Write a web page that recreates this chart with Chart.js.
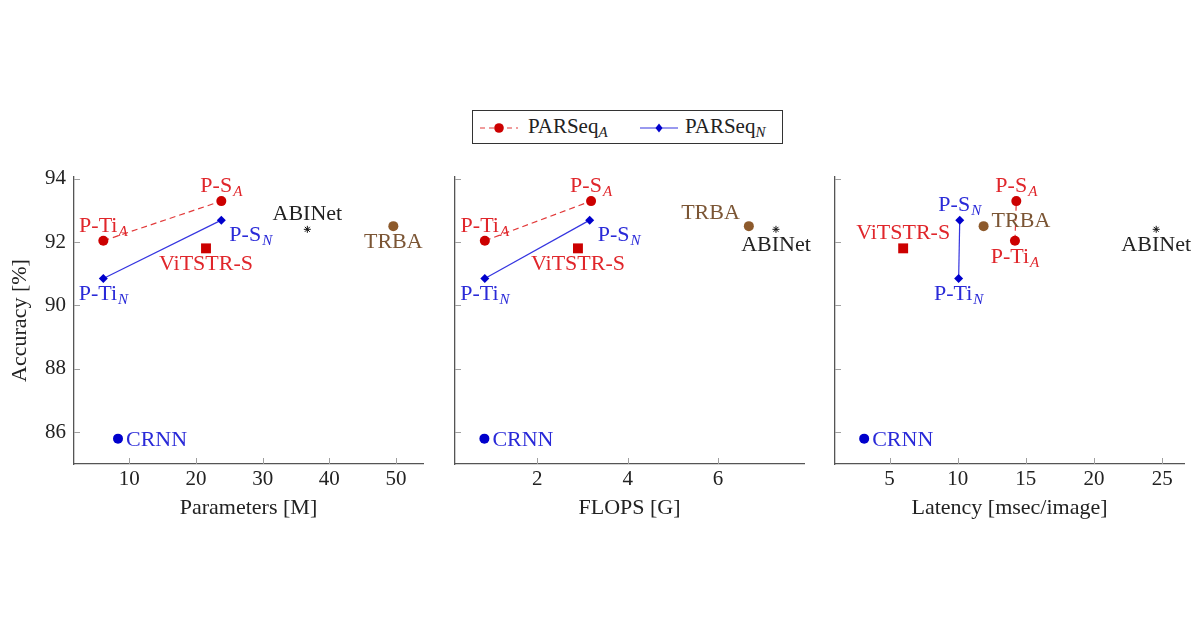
<!DOCTYPE html>
<html>
<head>
<meta charset="utf-8">
<script src="https://cdn.jsdelivr.net/npm/chart.js@4.4.1/dist/chart.umd.min.js"></script>
<style>
    body { margin: 0; background: #fff; width: 1200px; height: 630px; position: relative; overflow: hidden; font-family: "Liberation Serif", serif; color: #222; }
    canvas { position: absolute; top: 150px; }
    #legend { position: absolute; left: 472px; top: 110px; width: 311px; height: 34px; box-sizing: border-box; border: 1px solid #333; }
    #legend svg { position: absolute; top: 10px; }
    #legend .entry { position: absolute; top: 3px; font-size: 21px; line-height: 25px; white-space: nowrap; }
    #legend sub { font-size: 15px; font-style: italic; vertical-align: -4px; line-height: 0; }
</style>
</head>
<body>

<div id="legend">
    <svg style="left:6px" width="40" height="14"><line x1="1" y1="7" x2="39" y2="7" stroke="#e23a3a" stroke-width="1.2" stroke-dasharray="5,4"/><circle cx="20" cy="7" r="4.8" fill="#cc0000"/></svg>
    <span class="entry" style="left:55px">PARSeq<sub>A</sub></span>
    <svg style="left:166px" width="40" height="14"><line x1="1" y1="7" x2="39" y2="7" stroke="#3535e0" stroke-width="1.2"/><polygon points="20,2.5 23.5,7 20,11.5 16.5,7" fill="#0000cc"/></svg>
    <span class="entry" style="left:212px">PARSeq<sub>N</sub></span>
</div>

<canvas id="paramsChart" width="430" height="380" style="left:0px"></canvas>
<canvas id="flopsChart" width="430" height="380" style="left:381px"></canvas>
<canvas id="latencyChart" width="430" height="380" style="left:761px"></canvas>

<script>
// ==================== Data ====================
const modelNames = ['P-Ti', 'P-S', 'P-Ti', 'P-S', 'ViTSTR-S', 'ABINet', 'TRBA', 'CRNN'];
const modelSubs  = ['A', 'A', 'N', 'N', '', '', '', ''];
const accuracy   = [92.04, 93.29, 90.85, 92.69, 91.8, 92.4, 92.5, 85.8];
const paramsM    = [6.1, 23.8, 6.1, 23.8, 21.5, 36.7, 49.6, 8.3];
const flopsG     = [0.84, 3.19, 0.84, 3.16, 2.9, 7.28, 6.68, 0.83];
const latencyMs  = [14.2, 14.3, 10.07, 10.15, 6.0, 24.56, 11.9, 3.14];

const accTicks   = [86, 88, 90, 92, 94];
const paramTicks = [10, 20, 30, 40, 50];
const flopTicks  = [2, 4, 6];
const latTicks   = [5, 10, 15, 20, 25];

// ==================== Styles ====================
const RED = '#cc0000', RED_TEXT = '#e0262b', RED_LINE = '#e23a3a';
const BLUE = '#0000cc', BLUE_TEXT = '#2a2ad8', BLUE_LINE = '#3535e0';
const BROWN = '#8d5a2c', BROWN_TEXT = '#7b5534';
const AXIS = '#555';
const FAMILY = 'Liberation Serif';
const MAIN_FONT = '22px "Liberation Serif"';
const SUB_FONT = 'italic 15px "Liberation Serif"';

const labelColors = [RED_TEXT, RED_TEXT, BLUE_TEXT, BLUE_TEXT, RED_TEXT, '#222', BROWN_TEXT, BLUE_TEXT];

// label anchor relative to the point (baseline of the text)
const PLACES = {
    above:      { align: 'center', dx: 0,  dy: -9 },
    below:      { align: 'center', dx: 0,  dy: 22 },
    right:      { align: 'left',   dx: 8,  dy: 7 },
    rightUp:    { align: 'left',   dx: 8,  dy: 1 },
    belowRight: { align: 'left',   dx: 8,  dy: 21 },
    aboveLeft:  { align: 'right',  dx: -9, dy: -7 }
};

// ==================== Plugins ====================
function makeLabelPlugin(xs, places) {
    return {
        id: 'pointLabels',
        afterDatasetsDraw(chart) {
            const { ctx, scales: { x, y } } = chart;
            ctx.save();
            ctx.textAlign = 'left';
            ctx.textBaseline = 'alphabetic';
            xs.forEach((xv, i) => {
                const place = PLACES[places[i]];
                const px = x.getPixelForValue(xv) + place.dx;
                const py = y.getPixelForValue(accuracy[i]) + place.dy;
                ctx.font = MAIN_FONT;
                const wMain = ctx.measureText(modelNames[i]).width;
                ctx.font = SUB_FONT;
                const wSub = modelSubs[i] ? ctx.measureText(modelSubs[i]).width + 1 : 0;
                const w = wMain + wSub;
                let left = px;
                if (place.align === 'center') left = px - w / 2;
                if (place.align === 'right') left = px - w;
                ctx.fillStyle = labelColors[i];
                ctx.font = MAIN_FONT;
                ctx.fillText(modelNames[i], left, py);
                if (modelSubs[i]) {
                    ctx.font = SUB_FONT;
                    ctx.fillText(modelSubs[i], left + wMain + 1, py + 4);
                }
            });
            ctx.restore();
        }
    };
}

// short tick marks pointing into the plot area
const innerTicks = {
    id: 'innerTicks',
    beforeDatasetsDraw(chart) {
        const { ctx, chartArea, scales: { x, y } } = chart;
        ctx.save();
        ctx.strokeStyle = '#a0a0a0';
        ctx.lineWidth = 1;
        x.ticks.forEach(t => {
            const px = Math.round(x.getPixelForValue(t.value)) + 0.5;
            ctx.beginPath();
            ctx.moveTo(px, chartArea.bottom);
            ctx.lineTo(px, chartArea.bottom - 6);
            ctx.stroke();
        });
        y.ticks.forEach(t => {
            const py = Math.round(y.getPixelForValue(t.value)) + 0.5;
            ctx.beginPath();
            ctx.moveTo(chartArea.left, py);
            ctx.lineTo(chartArea.left + 6, py);
            ctx.stroke();
        });
        ctx.restore();
    }
};

// ==================== Chart Builders ====================
function buildDatasets(xs) {
    const pt = i => ({ x: xs[i], y: accuracy[i] });
    const single = (i, style, color, radius, extra) => Object.assign({
        label: modelNames[i],
        data: [pt(i)],
        pointStyle: style,
        pointRadius: radius,
        pointBackgroundColor: color,
        pointBorderColor: color,
        pointBorderWidth: 0
    }, extra || {});
    return [
        {
            label: 'PARSeq_A',
            data: [pt(0), pt(1)],
            showLine: true,
            borderColor: RED_LINE,
            borderWidth: 1.2,
            borderDash: [6, 4],
            pointStyle: 'circle',
            pointRadius: 5,
            pointBackgroundColor: RED,
            pointBorderWidth: 0
        },
        {
            label: 'PARSeq_N',
            data: [pt(2), pt(3)],
            showLine: true,
            borderColor: BLUE_LINE,
            borderWidth: 1.2,
            pointStyle: 'rectRot',
            pointRadius: 4.5,
            pointBackgroundColor: BLUE,
            pointBorderWidth: 0
        },
        single(4, 'rect', RED, 7),
        single(5, 'star', '#111', 3.5, { pointBorderWidth: 1 }),
        single(6, 'circle', BROWN, 5),
        single(7, 'circle', BLUE, 5)
    ];
}

function buildChart(canvasId, xs, xMin, xMax, xTicks, xTitle, showY, places) {
    const font = { family: FAMILY, size: 21 };
    const titleFont = { family: FAMILY, size: 22 };
    return new Chart(document.getElementById(canvasId), {
        type: 'scatter',
        data: { datasets: buildDatasets(xs) },
        options: {
            responsive: false,
            animation: false,
            layout: { padding: { top: 27, right: 7, left: 0, bottom: 0 } },
            plugins: { legend: { display: false }, tooltip: { enabled: false } },
            scales: {
                x: {
                    type: 'linear',
                    min: xMin,
                    max: xMax,
                    afterBuildTicks: s => { s.ticks = xTicks.map(v => ({ value: v })); },
                    afterFit: s => { s.height = 66; },
                    grid: { display: false, drawTicks: false },
                    border: { color: AXIS, width: 1.3 },
                    ticks: { padding: 3, color: '#222', font: font },
                    title: { display: true, text: xTitle, color: '#222', font: titleFont, padding: { top: 0, bottom: 9 } }
                },
                y: {
                    type: 'linear',
                    min: 85,
                    max: 94.05,
                    afterBuildTicks: s => { s.ticks = accTicks.map(v => ({ value: v })); },
                    afterFit: s => { s.width = 74; },
                    grid: { display: false, drawTicks: false },
                    border: { color: AXIS, width: 1.3 },
                    ticks: { display: showY, padding: 8, color: '#222', font: font },
                    title: { display: showY, text: 'Accuracy [%]', color: '#222', font: titleFont, padding: { top: 7, bottom: 0 } }
                }
            }
        },
        plugins: [innerTicks, makeLabelPlugin(xs, places)]
    });
}

// ==================== Initialize ====================
buildChart('paramsChart', paramsM, 1.7, 54.05, paramTicks, 'Parameters [M]', true,
    ['above', 'above', 'below', 'belowRight', 'below', 'above', 'below', 'right']);

buildChart('flopsChart', flopsG, 0.18, 7.9, flopTicks, 'FLOPS [G]', false,
    ['above', 'above', 'below', 'belowRight', 'below', 'below', 'aboveLeft', 'right']);

buildChart('latencyChart', latencyMs, 1.0, 26.6, latTicks, 'Latency [msec/image]', false,
    ['below', 'above', 'below', 'above', 'above', 'below', 'rightUp', 'right']);
</script>
</body>
</html>
